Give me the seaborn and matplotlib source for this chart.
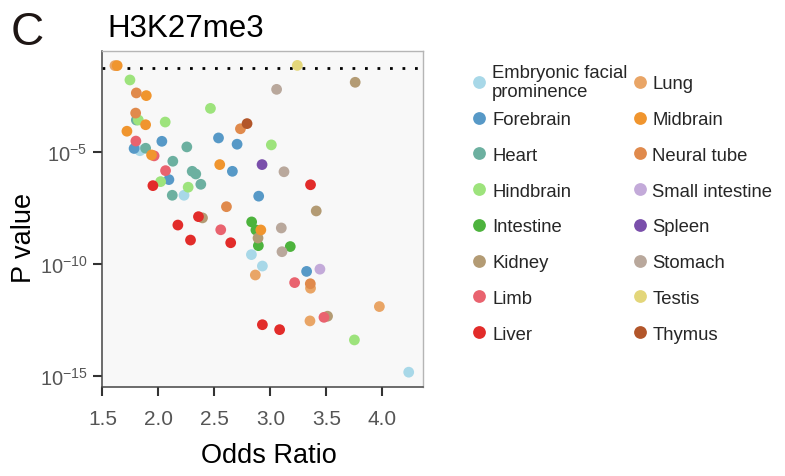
import numpy as np
import pandas as pd
import matplotlib
matplotlib.use("Agg")
import matplotlib.pyplot as plt
from matplotlib.lines import Line2D
from matplotlib.legend_handler import HandlerLine2D
from matplotlib.ticker import NullLocator
import seaborn as sns

# Tissue categories (legend order) and their colours
tissues = [
    "Embryonic facial prominence", "Forebrain", "Heart", "Hindbrain",
    "Intestine", "Kidney", "Limb", "Liver",
    "Lung", "Midbrain", "Neural tube", "Small intestine",
    "Spleen", "Stomach", "Testis", "Thymus",
]
tissue_colors = [
    "#a8d8e8", "#5799c7", "#6cb0a0", "#9de37c",
    "#4db33d", "#b39b74", "#e9636f", "#e22c2a",
    "#e9a566", "#f0952e", "#e08a4c", "#c3aad9",
    "#7a4fab", "#b9a89c", "#e3d67a", "#b2562a",
]

# One entry per enrichment test: tissue, odds ratio, log10 P value
tissue = (
    ["Embryonic facial prominence"] * 5 + ["Forebrain"] * 8 + ["Heart"] * 8
    + ["Hindbrain"] * 8 + ["Intestine"] * 4 + ["Kidney"] * 5 + ["Limb"] * 6
    + ["Liver"] * 8 + ["Lung"] * 5 + ["Midbrain"] * 7 + ["Neural tube"] * 5
    + ["Small intestine"] + ["Spleen"] + ["Stomach"] * 4 + ["Testis"] + ["Thymus"]
)
odds_ratio = [
    1.835, 2.229, 2.831, 2.929, 4.236,
    1.783, 2.031, 2.094, 2.537, 2.703, 2.661, 2.896, 3.324,
    1.886, 2.254, 2.129, 2.302, 2.334, 2.379, 2.124, 1.803,
    1.746, 2.465, 1.821, 2.061, 3.009, 2.020, 2.266, 3.751,
    2.833, 2.871, 2.893, 3.178,
    3.758, 2.394, 3.410, 2.890, 3.511,
    1.799, 1.962, 2.064, 2.557, 3.217, 3.479,
    1.951, 2.174, 2.358, 2.287, 2.646, 3.359, 2.929, 3.083,
    1.612, 2.866, 3.359, 3.354, 3.974,
    1.632, 1.892, 1.886, 1.719, 1.939, 2.548, 2.915,
    1.803, 1.797, 2.733, 2.608, 3.357,
    3.443,
    2.926,
    3.056, 3.122, 3.098, 3.104,
    3.241,
    2.792,
]
log10_p = [
    -4.93, -6.92, -9.57, -10.08, -14.82,
    -4.83, -4.51, -6.22, -4.36, -4.64, -5.85, -6.96, -10.32,
    -4.82, -4.76, -5.40, -5.85, -5.97, -6.43, -6.92, -3.56,
    -1.77, -3.04, -3.56, -3.65, -4.67, -6.31, -6.56, -13.38,
    -8.11, -8.47, -9.17, -9.21,
    -1.875, -7.93, -7.62, -8.83, -12.32,
    -4.50, -5.16, -5.82, -8.46, -10.82, -12.37,
    -6.49, -8.25, -7.875, -8.92, -9.04, -6.45, -12.70, -12.92,
    -1.13, -10.48, -11.07, -12.53, -11.89,
    -1.13, -2.47, -3.77, -4.06, -5.12, -5.55, -8.47,
    -2.35, -3.25, -3.95, -7.43, -10.87,
    -10.22,
    -5.55,
    -2.19, -5.87, -8.38, -9.44,
    -1.12,
    -3.72,
]
p_threshold = 10 ** -1.25

x_ticks = [1.5, 2.0, 2.5, 3.0, 3.5, 4.0]
x_tick_labels = ["1.5", "2.0", "2.5", "3.0", "3.5", "4.0"]
y_ticks = [1e-5, 1e-10, 1e-15]
y_tick_labels = [r"$10^{-5}$", r"$10^{-10}$", r"$10^{-15}$"]


class CenteredMarkerHandler(HandlerLine2D):
    """Legend handler that lowers the marker onto the middle of the label text."""

    def __init__(self, drop, **kwargs):
        super().__init__(**kwargs)
        self.drop = drop

    def create_artists(self, legend, orig_handle, xdescent, ydescent, width,
                       height, fontsize, trans):
        artists = super().create_artists(legend, orig_handle, xdescent,
                                         ydescent, width, height, fontsize,
                                         trans)
        for artist in artists:
            artist.set_ydata(np.asarray(artist.get_ydata()) - self.drop * fontsize)
        return artists


sns.set_theme(style="white")
plt.rcParams["font.family"] = ["Liberation Sans", "DejaVu Sans"]
plt.rcParams["mathtext.fontset"] = "custom"
plt.rcParams["mathtext.rm"] = "Liberation Sans"
plt.rcParams["mathtext.it"] = "Liberation Sans:italic"
plt.rcParams["mathtext.default"] = "regular"

df = pd.DataFrame({
    "Tissue": tissue,
    "Odds Ratio": odds_ratio,
    "P value": 10.0 ** np.array(log10_p),
})
palette = dict(zip(tissues, tissue_colors))

fig = plt.figure(figsize=(7.85, 4.77), dpi=100)
ax = fig.add_axes([0.1296, 0.1876, 0.4093, 0.7028])
ax.set_facecolor("#f8f8f8")

sns.scatterplot(
    data=df, x="Odds Ratio", y="P value", hue="Tissue", hue_order=tissues,
    palette=palette, s=60, linewidth=0, alpha=1.0, legend=False, ax=ax,
    zorder=3,
)
ax.set_yscale("log")
ax.axhline(p_threshold, color="black", lw=2.0, ls=(0, (1.0, 3.5)), zorder=2)

ax.set_xlim(1.494, 4.364)
ax.set_ylim(10 ** -15.46, 10 ** -0.49)
ax.set_xticks(x_ticks)
ax.set_xticklabels(x_tick_labels)
ax.set_yticks(y_ticks)
ax.set_yticklabels(y_tick_labels)
ax.yaxis.set_minor_locator(NullLocator())
ax.xaxis.set_minor_locator(NullLocator())

ax.tick_params(axis="x", bottom=True, direction="out", length=6.3, width=1.5,
               color="#333333", labelcolor="#555555", labelsize=15, pad=10)
ax.tick_params(axis="y", left=True, direction="out", length=6.3, width=1.5,
               color="#333333", labelcolor="#555555", labelsize=14.5, pad=4)

for side in ("top", "right"):
    ax.spines[side].set_color("#b5b5b5")
    ax.spines[side].set_linewidth(1.0)
for side in ("left", "bottom"):
    ax.spines[side].set_color("#444444")
    ax.spines[side].set_linewidth(1.1)

ax.set_xlabel("Odds Ratio", fontsize=19.5, color="black")
ax.set_ylabel("P value", fontsize=19.5, color="black")
ax.xaxis.set_label_coords(0.521, -0.167)
ax.yaxis.set_label_coords(-0.200, 0.447)

fig.text(107 / 785, 1 - 36.7 / 477, "H3K27me3", fontsize=22.5, color="black",
         ha="left", va="baseline")
fig.text(11 / 785, 1 - 45 / 477, "C", fontsize=33, color="#1e1614",
         ha="left", va="baseline")

handles = [
    Line2D([], [], marker="o", ls="", markersize=9.2, markerfacecolor=c,
           markeredgewidth=0)
    for c in tissue_colors
]
labels = ["Embryonic facial\nprominence"] + tissues[1:]
leg = fig.legend(
    handles, labels, ncol=2, loc="upper left",
    bbox_to_anchor=(470 / 785, 1 - 65 / 477), frameon=False, fontsize=13.3,
    handlelength=1.0, handleheight=2.6, handletextpad=0.2,
    columnspacing=0.15, labelspacing=0.0, borderpad=0, borderaxespad=0,
    handler_map={Line2D: CenteredMarkerHandler(drop=0.28)},
)
leg.get_texts()[0].set_linespacing(1.15)

fig.savefig("out.png", dpi=100, facecolor="white")
